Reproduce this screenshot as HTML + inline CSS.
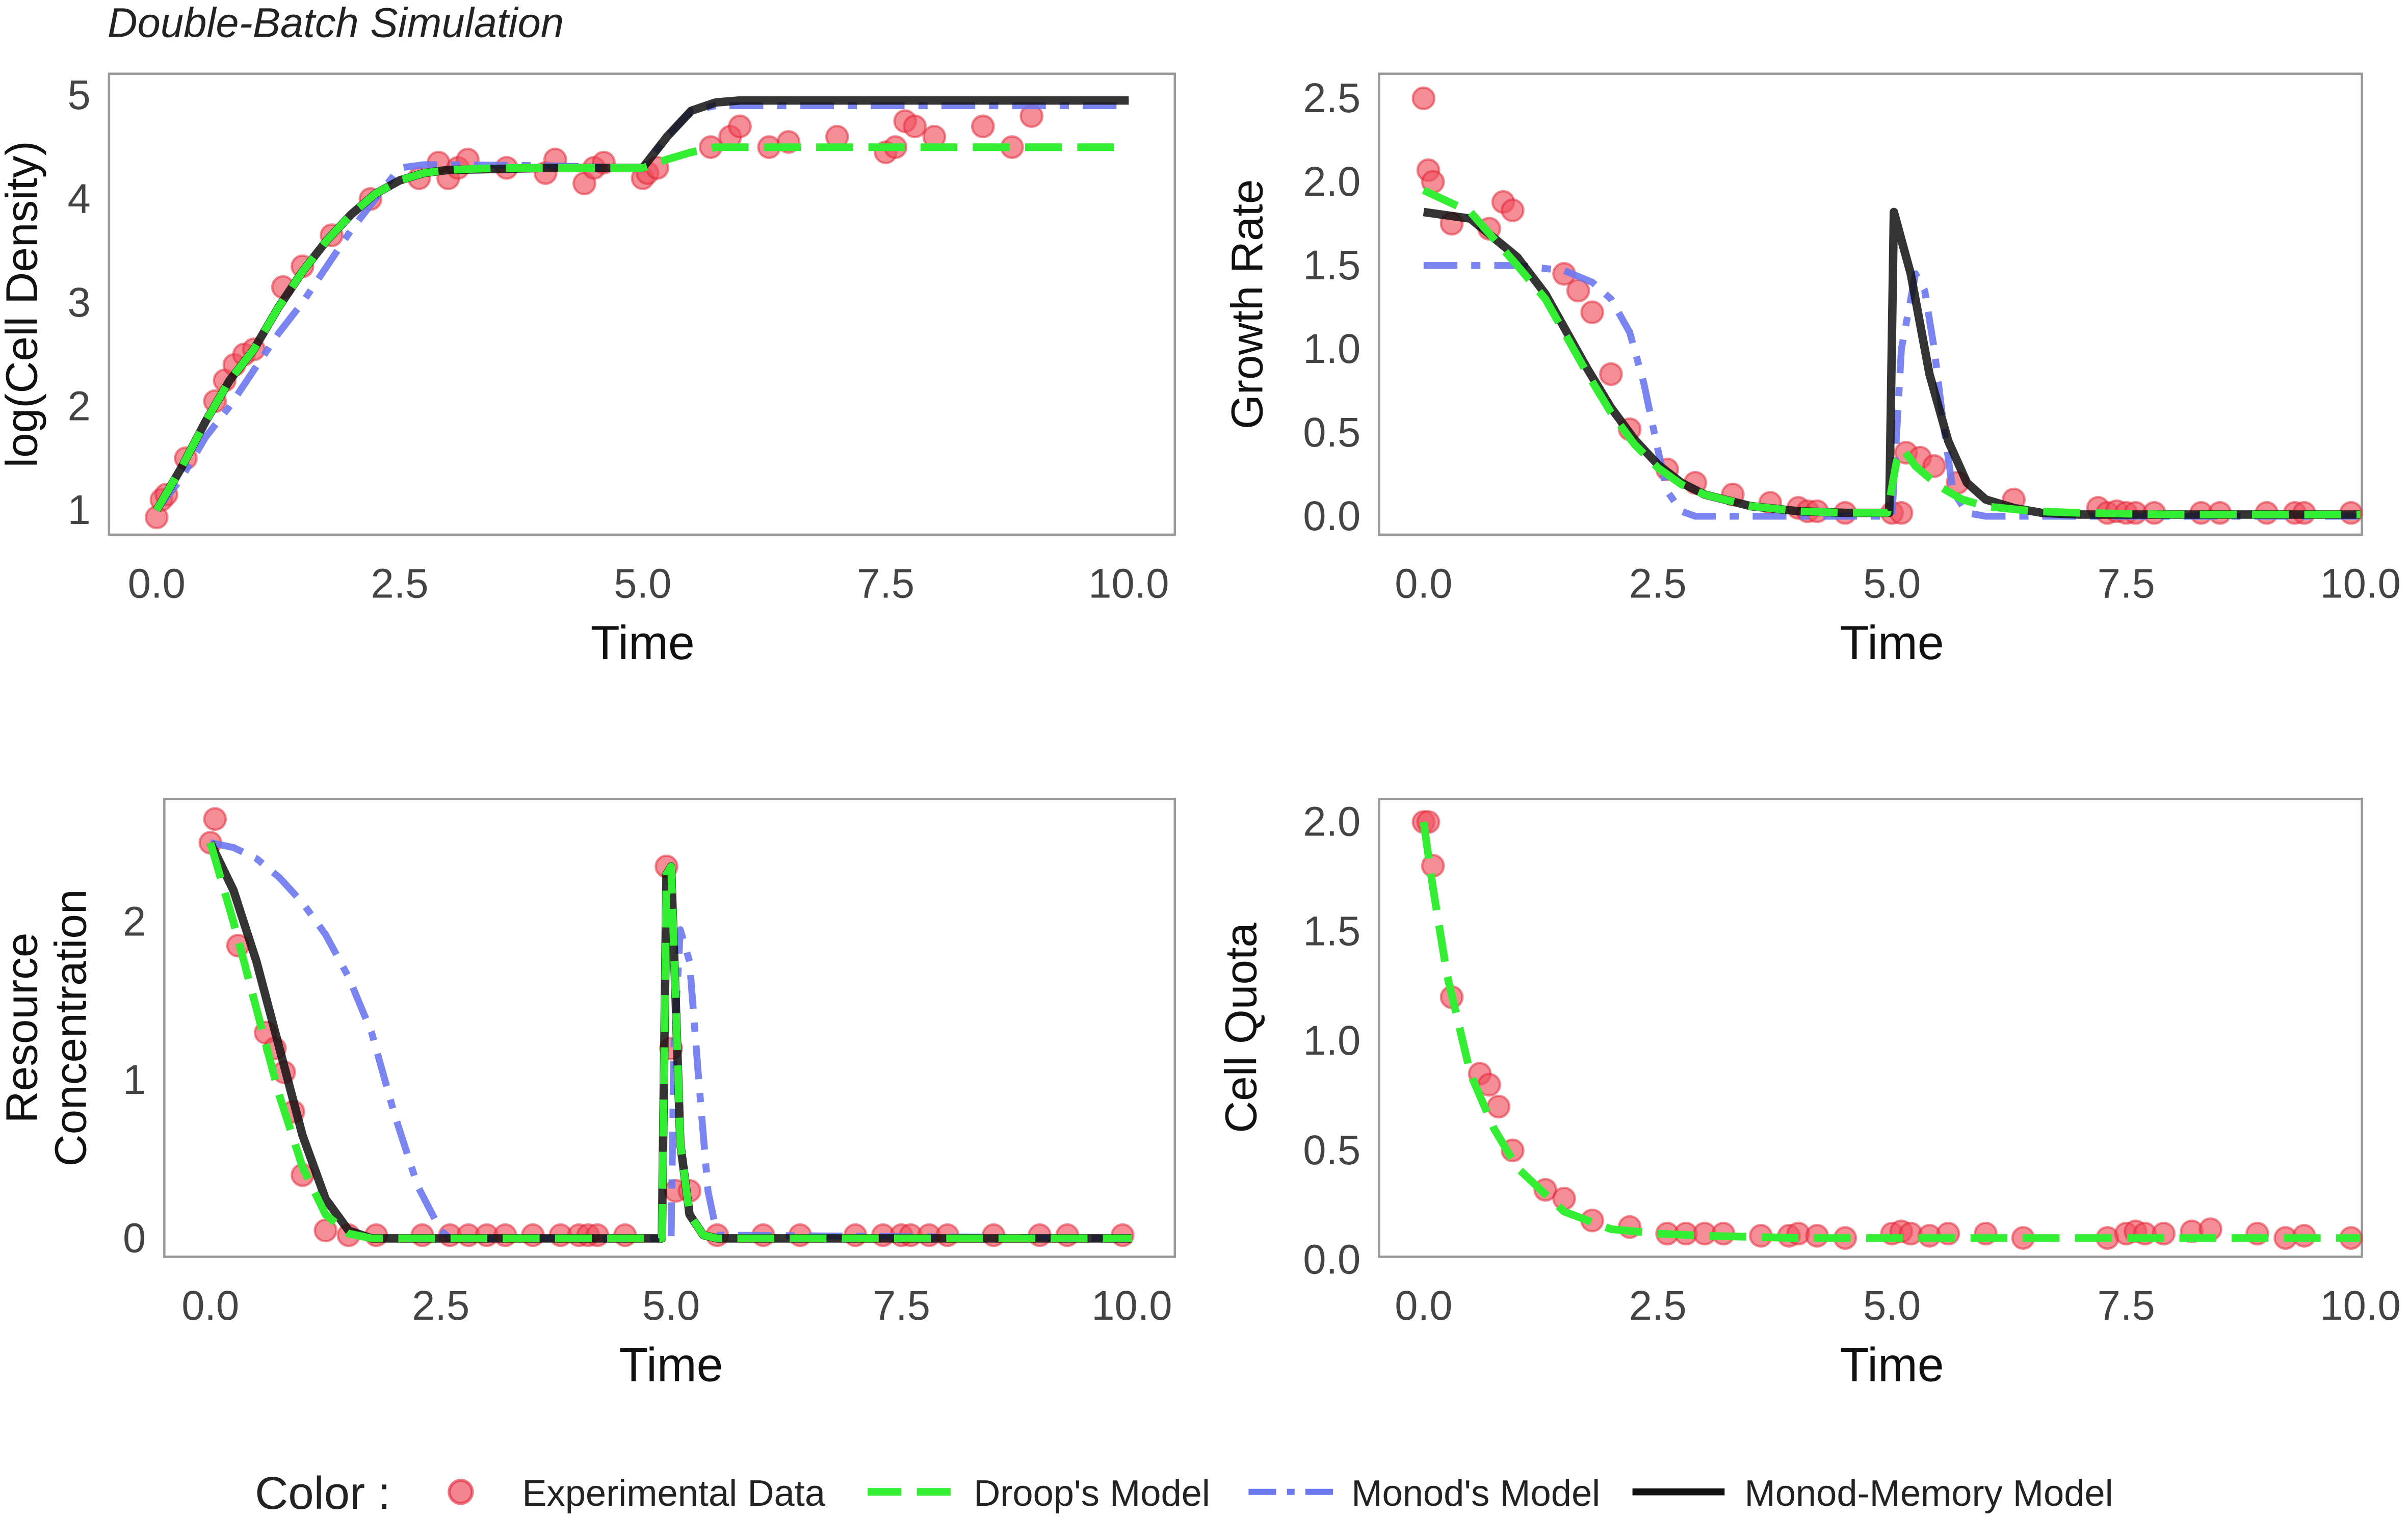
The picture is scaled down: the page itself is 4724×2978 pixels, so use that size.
<!DOCTYPE html>
<html><head><meta charset="utf-8"><style>
html,body{margin:0;padding:0;background:#fff;}
svg{display:block;}
text{font-family:"Liberation Sans",sans-serif;}
</style></head><body>
<svg id="chart" width="4724" height="2978" viewBox="0 0 1568 988" preserveAspectRatio="none" xmlns="http://www.w3.org/2000/svg">
<text x="70" y="24" font-size="27" font-style="italic" fill="#222">Double-Batch Simulation</text>
<g id="panels"></g>
<g>
<text x="166" y="982" font-size="30" fill="#222">Color :</text>
<circle cx="300" cy="971" r="7.5" fill="#f05060" fill-opacity="0.7" stroke="#e02030" stroke-opacity="0.6" stroke-width="2"/>
<text x="340" y="980" font-size="24" fill="#222">Experimental Data</text>
<line x1="565" y1="971" x2="621" y2="971" stroke="#33ee33" stroke-width="5" stroke-dasharray="22,10"/>
<text x="634" y="980" font-size="24" fill="#222">Droop's Model</text>
<line x1="813" y1="971" x2="869" y2="971" stroke="#6b78f0" stroke-width="4" stroke-dasharray="18,7,5,7"/>
<text x="880" y="980" font-size="24" fill="#222">Monod's Model</text>
<line x1="1063" y1="971" x2="1123" y2="971" stroke="#111" stroke-width="4.5"/>
<text x="1136" y="980" font-size="24" fill="#222">Monod-Memory Model</text>
</g>
</svg>
<script>
// ---- Panel 1: log(Cell Density)
const p1DroopT = [0,0.25,0.5,0.75,1,1.25,1.5,1.75,2,2.25,2.5,2.75,3,3.5,4,4.5,5,5.25,5.5,5.75,6,7,8,9,10];
const p1DroopV = [1,1.4,1.85,2.25,2.55,2.95,3.3,3.6,3.85,4.05,4.18,4.25,4.28,4.3,4.3,4.3,4.3,4.38,4.45,4.5,4.5,4.5,4.5,4.5,4.5];
const p1MonodT = [0,0.25,0.5,0.75,1,1.25,1.5,1.75,2,2.25,2.5,2.75,3,4,5,5.25,5.5,5.75,6,7,8,9,10];
const p1MonodV = [1,1.3,1.7,2.0,2.35,2.7,3.0,3.35,3.7,4.0,4.3,4.33,4.33,4.32,4.3,4.6,4.85,4.9,4.9,4.9,4.9,4.9,4.9];
const p1MemT = [0,0.25,0.5,0.75,1,1.25,1.5,1.75,2,2.25,2.5,2.75,3,4,5,5.25,5.5,5.75,6,7,8,9,10];
const p1MemV = [1,1.4,1.85,2.25,2.55,2.95,3.3,3.6,3.85,4.05,4.18,4.25,4.28,4.3,4.3,4.6,4.85,4.93,4.95,4.95,4.95,4.95,4.95];
const p1PtsT = [0,0.05,0.1,0.3,0.6,0.7,0.8,0.9,1.0,1.3,1.5,1.8,2.2,2.7,2.9,3.0,3.1,3.2,3.6,4.0,4.1,4.4,4.5,4.6,5.0,5.05,5.15,5.7,5.9,6.0,6.3,6.5,7.0,7.5,7.6,7.7,7.8,8.0,8.5,8.8,9.0];
const p1PtsV = [0.93,1.1,1.15,1.5,2.05,2.25,2.4,2.5,2.55,3.15,3.35,3.65,4.0,4.2,4.35,4.2,4.3,4.38,4.3,4.25,4.38,4.15,4.3,4.35,4.2,4.25,4.3,4.5,4.6,4.7,4.5,4.55,4.6,4.45,4.5,4.75,4.7,4.6,4.7,4.5,4.8];
const p1YTicks = ["1","2","3","4","5"];
// ---- Panel 2: Growth Rate
const p2DroopT = [0,0.5,1,1.3,1.5,1.75,2,2.25,2.5,2.75,3,3.5,4,4.5,4.95,5.05,5.12,5.25,5.5,5.75,6,6.5,7,8,10];
const p2DroopV = [1.95,1.82,1.5,1.3,1.1,0.85,0.62,0.43,0.29,0.19,0.13,0.06,0.03,0.02,0.02,0.33,0.4,0.3,0.18,0.1,0.06,0.03,0.02,0.01,0.01];
const p2MonodT = [0,1,1.5,1.8,2.0,2.2,2.35,2.5,2.6,2.75,2.9,5,5.1,5.25,5.35,5.45,5.55,5.65,5.8,6,10];
const p2MonodV = [1.5,1.5,1.47,1.4,1.3,1.1,0.8,0.4,0.15,0.03,0,0,1.0,1.45,1.35,1.0,0.55,0.15,0.02,0,0];
const p2MemT = [0,0.5,1,1.3,1.5,1.75,2,2.25,2.5,2.75,3,3.5,4,4.5,4.97,5.02,5.2,5.4,5.6,5.8,6,6.3,6.6,7,8,10];
const p2MemV = [1.82,1.78,1.55,1.33,1.13,0.88,0.65,0.46,0.31,0.2,0.13,0.06,0.03,0.02,0.02,1.82,1.45,0.85,0.45,0.2,0.1,0.05,0.02,0.01,0.01,0.01];
const p2PtsT = [0,0.05,0.1,0.3,0.7,0.85,0.95,1.5,1.65,1.8,2.0,2.2,2.6,2.9,3.3,3.7,4.0,4.1,4.2,4.5,5.0,5.1,5.15,5.3,5.45,5.7,6.3,7.2,7.3,7.4,7.5,7.6,7.8,8.3,8.5,9.0,9.3,9.4,9.9];
const p2PtsV = [2.5,2.07,2.0,1.75,1.72,1.88,1.83,1.45,1.35,1.22,0.85,0.52,0.28,0.2,0.13,0.08,0.05,0.03,0.03,0.02,0.02,0.02,0.38,0.35,0.3,0.2,0.1,0.05,0.02,0.03,0.02,0.02,0.02,0.02,0.02,0.02,0.02,0.02,0.02];
const p2YTicks = ["0.0","0.5","1.0","1.5","2.0","2.5"];
// ---- Panel 3: Resource Concentration
const p3DroopT = [0,0.25,0.5,0.75,1,1.25,1.5,1.75,2,4.9,4.95,5.0,5.05,5.1,5.2,5.35,5.5,10];
const p3DroopV = [2.5,2.0,1.45,0.9,0.45,0.15,0.03,0,0,0,2.3,2.35,1.5,0.6,0.15,0.02,0,0];
const p3MonodT = [0,0.25,0.5,0.75,1,1.25,1.5,1.75,2,2.25,2.5,2.6,5,5.03,5.1,5.2,5.3,5.4,5.5,10];
const p3MonodV = [2.5,2.47,2.4,2.28,2.12,1.92,1.65,1.3,0.78,0.33,0.05,0,0,1.2,1.95,1.75,1.0,0.3,0.02,0];
const p3MemT = [0,0.25,0.5,0.75,1,1.25,1.5,1.75,2,4.9,4.95,5.0,5.05,5.1,5.2,5.35,5.5,10];
const p3MemV = [2.5,2.2,1.75,1.2,0.65,0.25,0.05,0,0,0,2.3,2.35,1.5,0.6,0.15,0.02,0,0];
const p3PtsT = [0,0.05,0.3,0.6,0.7,0.8,0.9,1.0,1.25,1.5,1.8,2.3,2.6,2.8,3.0,3.2,3.5,3.8,4.0,4.1,4.2,4.5,4.95,5.0,5.05,5.2,5.5,6.0,6.4,7.0,7.3,7.5,7.6,7.8,8.0,8.5,9.0,9.3,9.9];
const p3PtsV = [2.5,2.65,1.85,1.3,1.2,1.05,0.8,0.4,0.05,0.02,0.02,0.02,0.02,0.02,0.02,0.02,0.02,0.02,0.02,0.02,0.02,0.02,2.35,1.2,0.3,0.3,0.02,0.02,0.02,0.02,0.02,0.02,0.02,0.02,0.02,0.02,0.02,0.02,0.02];
const p3YTicks = ["0","1","2"];
// ---- Panel 4: Cell Quota
const p4DroopT = [0,0.1,0.25,0.5,0.75,1,1.5,2,2.5,3,4,10];
const p4DroopV = [2.0,1.7,1.3,0.85,0.6,0.42,0.22,0.14,0.12,0.11,0.1,0.1];
const p4PtsT = [0,0.05,0.1,0.3,0.6,0.7,0.8,0.95,1.3,1.5,1.8,2.2,2.6,2.8,3.0,3.2,3.6,3.9,4.0,4.2,4.5,5.0,5.1,5.2,5.4,5.6,6.0,6.4,7.3,7.5,7.6,7.7,7.9,8.2,8.4,8.9,9.2,9.4,9.9];
const p4PtsV = [2.0,2.0,1.8,1.2,0.85,0.8,0.7,0.5,0.32,0.28,0.18,0.15,0.12,0.12,0.12,0.12,0.11,0.11,0.12,0.11,0.1,0.12,0.13,0.12,0.11,0.12,0.12,0.1,0.1,0.12,0.13,0.12,0.12,0.13,0.14,0.12,0.1,0.11,0.1];
const p4YTicks = ["0.0","0.5","1.0","1.5","2.0"];
const xTicks = ["0.0","2.5","5.0","7.5","10.0"];

const NS = "http://www.w3.org/2000/svg";
const root = document.getElementById("panels");
function mk(tag, attrs, parent){ const e=document.createElementNS(NS,tag); for(const k in attrs) e.setAttribute(k,attrs[k]); parent.appendChild(e); return e; }

function panel(cfg){
  const g = mk("g",{},root);
  
  
  const sx = t => cfg.x0 + (cfg.x10 - cfg.x0) * t / 10;
  const sy = v => cfg.yA + (cfg.yB - cfg.yA) * (v - cfg.vA) / (cfg.vB - cfg.vA);
  const box = mk("rect",{x:cfg.bx,y:cfg.by,width:cfg.bw,height:cfg.bh,fill:"none",stroke:"#999","stroke-width":1.5},g);
  
  
  xTicks.forEach((lab,i)=>{
    const t = mk("text",{x:sx(i*2.5),y:cfg.by+cfg.bh+41,"font-size":27,fill:"#444","text-anchor":"middle"},g);
    t.textContent = lab;
    
    
  });
  cfg.yTicks.forEach(lab=>{
    const t = mk("text",{x:cfg.bx-12,y:sy(parseFloat(lab))+9,"font-size":27,fill:"#444","text-anchor":"end"},g);
    t.textContent = lab;
    
    
  });
  const xt = mk("text",{x:sx(5),y:cfg.by+cfg.bh+81,"font-size":31,fill:"#111","text-anchor":"middle"},g);
  xt.textContent = "Time";
  
  
  const cy = cfg.by + cfg.bh/2;
  const yt = mk("text",{transform:`translate(${cfg.ytx},${cy}) rotate(-90)`,"font-size":29,fill:"#111","text-anchor":"middle"},g);
  
  
  cfg.ytitle.forEach((s,i)=>{ const ts=mk("tspan",{x:0,dy:i===0?(cfg.ytitle.length>1?-16:0):32},yt); ts.textContent=s; });
  const pts = mk("g",{},g);
  
  
  cfg.ptsT.forEach((t,i)=>{
    const c = mk("circle",{cx:sx(t),cy:sy(cfg.ptsV[i]),r:7,fill:"#f05060","fill-opacity":0.65,stroke:"#e02030","stroke-opacity":0.5,"stroke-width":1.5},pts);
    
    
  });
  const line = (T,V,style,name)=>{
    if(!T) return;
    const d = T.map((t,i)=>(i?"L":"M")+sx(t).toFixed(1)+","+sy(V[i]).toFixed(1)).join(" ");
    const p = mk("path",Object.assign({d:d,fill:"none","stroke-linejoin":"round"},style),g);
    
    
  };
  line(cfg.monT,cfg.monV,{stroke:"#6b78f0","stroke-opacity":0.9,"stroke-width":4.5,"stroke-dasharray":"22,9,6,9"},"monod-line");
  line(cfg.memT,cfg.memV,{stroke:"#111","stroke-opacity":0.85,"stroke-width":5.5},"monod-memory-line");
  line(cfg.drT,cfg.drV,{stroke:"#33ee33","stroke-width":5,"stroke-dasharray":"24,10"},"droop-line");
}

panel({name:"cell-density-panel",bx:71,by:48,bw:694,bh:300,x0:102,x10:735,yA:332,yB:62,vA:1,vB:5,yTicks:p1YTicks,ytx:24,ytitle:["log(Cell Density)"],
  drT:p1DroopT,drV:p1DroopV,monT:p1MonodT,monV:p1MonodV,memT:p1MemT,memV:p1MemV,ptsT:p1PtsT,ptsV:p1PtsV});
panel({name:"growth-rate-panel",bx:898,by:48,bw:640,bh:300,x0:927,x10:1537,yA:336,yB:64,vA:0,vB:2.5,yTicks:p2YTicks,ytx:822,ytitle:["Growth Rate"],
  drT:p2DroopT,drV:p2DroopV,monT:p2MonodT,monV:p2MonodV,memT:p2MemT,memV:p2MemV,ptsT:p2PtsT,ptsV:p2PtsV});
panel({name:"resource-panel",bx:107,by:520,bw:658,bh:298,x0:137,x10:737,yA:806,yB:600,vA:0,vB:2,yTicks:p3YTicks,ytx:40,ytitle:["Resource","Concentration"],
  drT:p3DroopT,drV:p3DroopV,monT:p3MonodT,monV:p3MonodV,memT:p3MemT,memV:p3MemV,ptsT:p3PtsT,ptsV:p3PtsV});
panel({name:"cell-quota-panel",bx:898,by:520,bw:640,bh:298,x0:927,x10:1537,yA:820,yB:535,vA:0,vB:2,yTicks:p4YTicks,ytx:818,ytitle:["Cell Quota"],
  drT:p4DroopT,drV:p4DroopV,ptsT:p4PtsT,ptsV:p4PtsV});
</script>
</body></html>
